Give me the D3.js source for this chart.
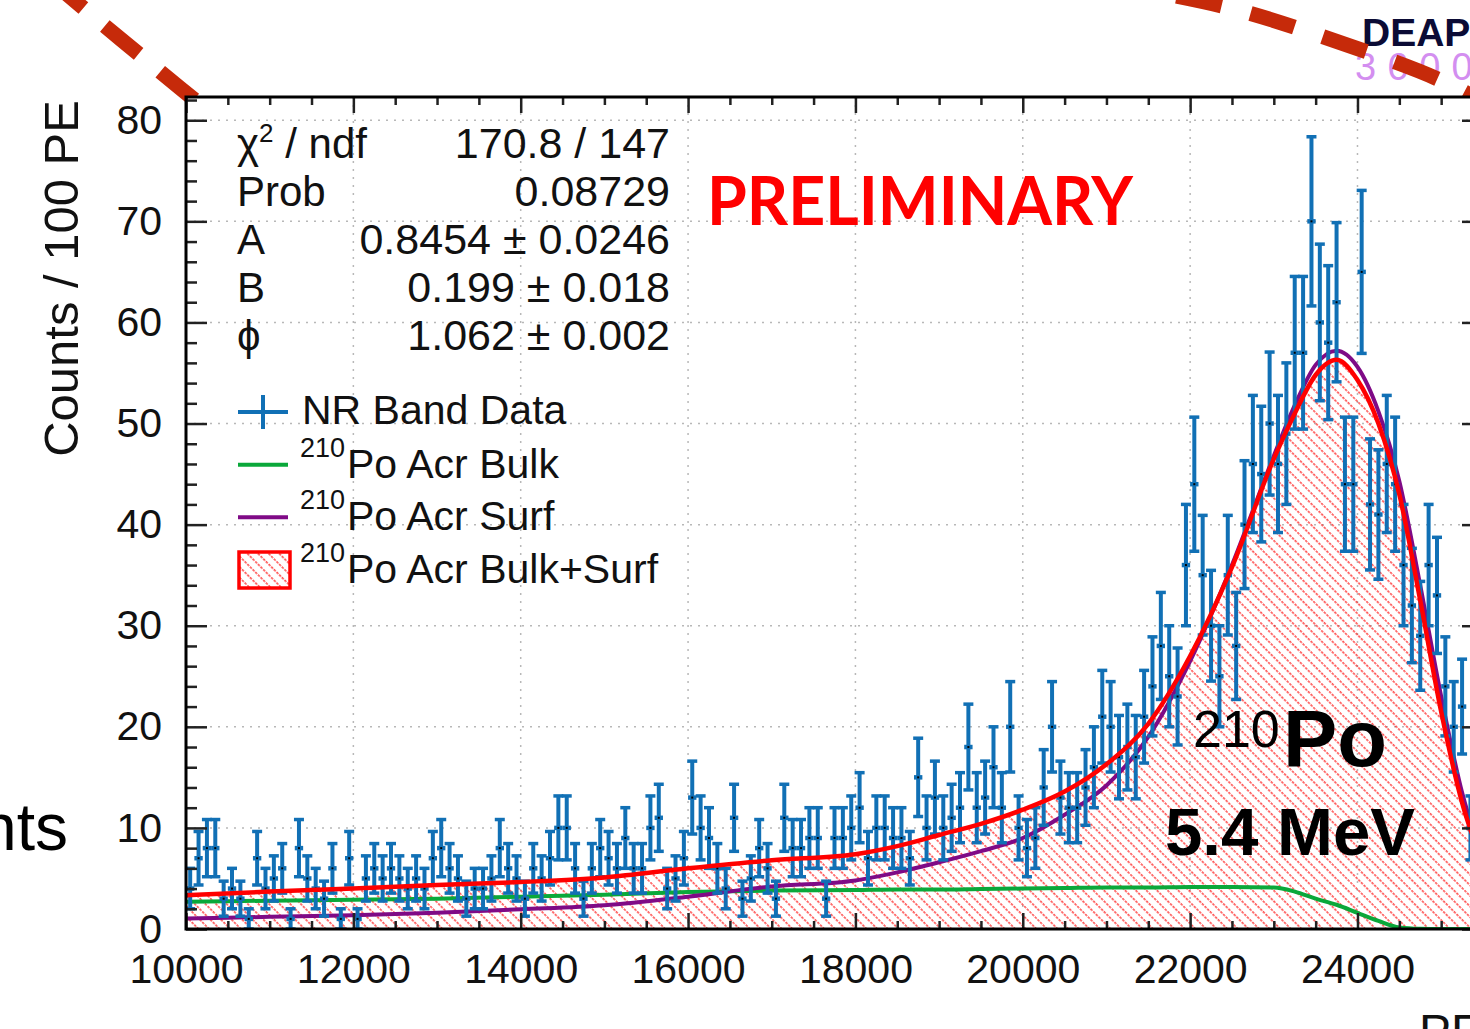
<!DOCTYPE html>
<html>
<head>
<meta charset="utf-8">
<script src="https://cdn.jsdelivr.net/npm/d3@7"></script>
<style>
  html, body { margin: 0; padding: 0; background: #fff; }
  svg { display: block; font-family: "Liberation Sans", Arial, Helvetica, sans-serif; }
</style>
</head>
<body>
<div id="plot1"></div>
<script>
// histogram: 100 PE bins starting at 10000
var binStart = 10000;
var binWidth = 100;
var counts = [
  4,7,8,8,3,4,3,1,7,4, 5,6,1,8,5,4,3,6,1,7,
  1,5,6,5,6,5,4,5,4,7, 8,6,5,3,4,4,5,8,6,5,
  3,6,5,7,10,10,6,3,6,8, 7,6,9,6,6,10,11,4,5,7,
  13,10,9,6,4,11,3,5,8,6, 3,11,8,8,9,9,3,9,9,10,
  12,7,10,10,9,9,7,15,10,13, 10,11,12,18,12,13,16,12,20,10,
  8,9,14,20,13,12,12,14,16,21, 20,17,18,17,21,24,28,25,23,36,
  44,35,30,25,35,28,40,46,45,50, 46,49,57,57,70,60,58,62,44,44,
  65,42,41,46,44,36,32,29,36,33, 24,20,22,10,8
];

// fit components at these PE values
var samplePE = [10000,11000,12000,13000,14000,15000,16000,17000,18000,18500,19000,19500,20000,20500,
  21000,21500,22000,22500,23000,23250,23500,23750,24000,24250,24500,24750,25000,25250,25500];
var totalFit = [3.35,3.7,4.0,4.35,4.65,5.1,6.0,6.8,7.4,8.2,9.3,10.4,11.8,13.6,
  16.3,20.3,27.0,35.8,46.5,51.0,54.8,56.3,54.3,50.0,43.0,32.5,21.5,12.5,6.5];
var surfFit = [1.05,1.2,1.35,1.6,1.95,2.35,3.2,4.2,4.8,5.6,6.6,7.7,9.0,11.3,
  14.2,19.0,26.5,36.0,46.8,51.8,55.8,57.2,55.6,51.2,44.3,34.0,23.0,13.5,7.0];
var bulkFit = [2.7,2.8,2.9,3.0,3.2,3.4,3.65,3.8,3.85,3.9,3.9,3.95,4.0,4.05,
  4.1,4.1,4.15,4.15,4.1,3.7,3.0,2.4,1.6,0.8,0.15,0.02,0,0,0];

var xMajor = [10000,12000,14000,16000,18000,20000,22000,24000];
var yMajor = [0,10,20,30,40,50,60,70,80];

var statNames = ["χ2", "Prob", "A", "B", "ϕ"];
var statValues = ["170.8 / 147", "0.08729", "0.8454 ± 0.0246", "0.199 ± 0.018", "1.062 ± 0.002"];
var legendNames = ["NR Band Data", "Po Acr Bulk", "Po Acr Surf", "Po Acr Bulk+Surf"];

var W = 1470, H = 1029;
var frame = {l: 186, r: 1483, t: 97, b: 929};

var blue = "#1170b5";
var red = "#ff0000";
var green = "#0aa83a";
var purple = "#7f0a86";

var svg = d3.select('#plot1').append('svg')
    .attr('width', W).attr('height', H);

var x = d3.scaleLinear().domain([10000, 25500]).range([frame.l, frame.r]);
var y = d3.scaleLinear().domain([0, 82.3]).range([frame.b, frame.t]);

var defs = svg.append('defs');
var hatch = defs.append('pattern')
    .attr('id', 'hatch')
    .attr('patternUnits', 'userSpaceOnUse')
    .attr('width', 7.5).attr('height', 7.5)
    .attr('patternTransform', 'rotate(-45)');
hatch.append('line')
    .attr('x1', 1).attr('y1', 0).attr('x2', 1).attr('y2', 7.5)
    .attr('stroke', red).attr('stroke-width', 1.1)
    .attr('stroke-dasharray', '2.5,1.25');

defs.append('clipPath').attr('id', 'clip')
    .append('rect')
    .attr('x', frame.l).attr('y', frame.t)
    .attr('width', frame.r - frame.l).attr('height', frame.b - frame.t);

// logo text in the corner
svg.append('text').attr('x', 1362).attr('y', 46)
    .style('font-size', '39px').style('font-weight', 'bold').style('fill', '#0b0b35')
    .text('DEAP');
svg.append('text').attr('x', 1355).attr('y', 80)
    .style('font-size', '38px').style('letter-spacing', '11px').style('fill', '#d38ef0')
    .text('3600');

// decorative dashed arcs
var arcLine = d3.line().curve(d3.curveNatural);
svg.append('path')
    .attr('d', arcLine([[55,-16],[100,22],[140,55],[180,88],[205,108]]))
    .attr('fill', 'none').attr('stroke', '#c62a0a').attr('stroke-width', 15)
    .attr('stroke-dasharray', '44,28').attr('stroke-dashoffset', 7);
svg.append('path')
    .attr('d', arcLine([[1150,-9],[1230,8],[1300,29],[1370,53],[1440,80],[1500,112]]))
    .attr('fill', 'none').attr('stroke', '#c62a0a').attr('stroke-width', 15)
    .attr('stroke-dasharray', '46,30').attr('stroke-dashoffset', 49);

// plot area
svg.append('rect')
    .attr('x', frame.l).attr('y', frame.t)
    .attr('width', frame.r - frame.l).attr('height', frame.b - frame.t)
    .attr('fill', '#fff');

var plot = svg.append('g').attr('clip-path', 'url(#clip)');

// dotted grid
plot.selectAll('.gx').data(xMajor.slice(1)).enter().append('line')
    .attr('x1', function(d){return x(d)}).attr('x2', function(d){return x(d)})
    .attr('y1', frame.t).attr('y2', frame.b)
    .attr('stroke', '#b8b8b8').attr('stroke-width', 1.5).attr('stroke-dasharray', '2,6');
plot.selectAll('.gy').data(yMajor.slice(1)).enter().append('line')
    .attr('y1', function(d){return y(d)}).attr('y2', function(d){return y(d)})
    .attr('x1', frame.l).attr('x2', frame.r)
    .attr('stroke', '#b8b8b8').attr('stroke-width', 1.5).attr('stroke-dasharray', '2,6');

var fitData = samplePE.map(function(pe, i){
    return {pe: pe, total: totalFit[i], surf: surfFit[i], bulk: bulkFit[i]};
});

// hatched bulk+surf area
plot.append('path')
    .datum(fitData)
    .attr('d', d3.area().curve(d3.curveMonotoneX)
        .x(function(d){return x(d.pe)})
        .y0(y(0))
        .y1(function(d){return y(d.total)}))
    .attr('fill', 'url(#hatch)');

plot.append('path')
    .datum(fitData)
    .attr('d', d3.line().curve(d3.curveMonotoneX)
        .x(function(d){return x(d.pe)}).y(function(d){return y(d.bulk)}))
    .attr('fill', 'none').attr('stroke', green).attr('stroke-width', 4);

plot.append('path')
    .datum(fitData)
    .attr('d', d3.line().curve(d3.curveMonotoneX)
        .x(function(d){return x(d.pe)}).y(function(d){return y(d.surf)}))
    .attr('fill', 'none').attr('stroke', purple).attr('stroke-width', 4);

// data points with sqrt(N) errors
var bins = counts.map(function(c, i){
    var lo = binStart + i * binWidth;
    return {lo: lo, hi: lo + binWidth, mid: lo + binWidth / 2, c: c, e: Math.sqrt(c)};
});

var pts = plot.append('g').selectAll('.pt').data(bins).enter().append('g');
pts.append('line')
    .attr('x1', function(d){return x(d.lo)}).attr('x2', function(d){return x(d.hi)})
    .attr('y1', function(d){return y(d.c)}).attr('y2', function(d){return y(d.c)})
    .attr('stroke', blue).attr('stroke-width', 4.5);
pts.append('line')
    .attr('x1', function(d){return x(d.mid)}).attr('x2', function(d){return x(d.mid)})
    .attr('y1', function(d){return y(d.c - d.e)}).attr('y2', function(d){return y(d.c + d.e)})
    .attr('stroke', blue).attr('stroke-width', 4);
pts.append('line')
    .attr('x1', function(d){return x(d.mid) - 5}).attr('x2', function(d){return x(d.mid) + 5})
    .attr('y1', function(d){return y(d.c + d.e)}).attr('y2', function(d){return y(d.c + d.e)})
    .attr('stroke', blue).attr('stroke-width', 3.5);
pts.append('line')
    .attr('x1', function(d){return x(d.mid) - 5}).attr('x2', function(d){return x(d.mid) + 5})
    .attr('y1', function(d){return y(d.c - d.e)}).attr('y2', function(d){return y(d.c - d.e)})
    .attr('stroke', blue).attr('stroke-width', 3.5);
pts.append('rect')
    .attr('x', function(d){return x(d.mid) - 1}).attr('y', function(d){return y(d.c) - 1})
    .attr('width', 2).attr('height', 2).attr('fill', '#000');

// total fit curve on top
plot.append('path')
    .datum(fitData)
    .attr('d', d3.line().curve(d3.curveMonotoneX)
        .x(function(d){return x(d.pe)}).y(function(d){return y(d.total)}))
    .attr('fill', 'none').attr('stroke', red).attr('stroke-width', 4.5);

// axes, ticks pointing inward (ROOT style)
function styleAxis(g){
    g.select('.domain').remove();
    g.selectAll('.tick line').attr('stroke', '#222').attr('stroke-width', 2.5);
    g.selectAll('.tick text').style('font-size', '41px').style('fill', '#111')
        .style('font-family', '"Liberation Sans", Arial, sans-serif');
}
var xMinor = d3.range(10000, 25501, 500).filter(function(v){return xMajor.indexOf(v) < 0});
var yMinor = d3.range(0, 82.3, 2).filter(function(v){return v % 10 !== 0});

svg.append('g').attr('transform', 'translate(0,' + frame.b + ')')
    .call(d3.axisBottom(x).tickValues(xMajor).tickFormat(d3.format('d')).tickSize(-16).tickPadding(25))
    .call(styleAxis);
svg.append('g').attr('transform', 'translate(0,' + frame.b + ')')
    .call(d3.axisBottom(x).tickValues(xMinor).tickFormat('').tickSize(-8))
    .call(styleAxis);
svg.append('g').attr('transform', 'translate(0,' + frame.t + ')')
    .call(d3.axisTop(x).tickValues(xMajor).tickFormat('').tickSize(-16))
    .call(styleAxis);
svg.append('g').attr('transform', 'translate(0,' + frame.t + ')')
    .call(d3.axisTop(x).tickValues(xMinor).tickFormat('').tickSize(-8))
    .call(styleAxis);
svg.append('g').attr('transform', 'translate(' + frame.l + ',0)')
    .call(d3.axisLeft(y).tickValues(yMajor).tickFormat(d3.format('d')).tickSize(-21).tickPadding(24))
    .call(styleAxis);
svg.append('g').attr('transform', 'translate(' + frame.l + ',0)')
    .call(d3.axisLeft(y).tickValues(yMinor).tickFormat('').tickSize(-11))
    .call(styleAxis);
svg.append('g').attr('transform', 'translate(' + frame.r + ',0)')
    .call(d3.axisRight(y).tickValues(yMajor).tickFormat('').tickSize(-21))
    .call(styleAxis);
svg.append('g').attr('transform', 'translate(' + frame.r + ',0)')
    .call(d3.axisRight(y).tickValues(yMinor).tickFormat('').tickSize(-11))
    .call(styleAxis);

// frame
svg.append('rect')
    .attr('x', frame.l).attr('y', frame.t)
    .attr('width', frame.r - frame.l).attr('height', frame.b - frame.t)
    .attr('fill', 'none').attr('stroke', '#000').attr('stroke-width', 3);

// axis titles
svg.append('text')
    .attr('transform', 'translate(78,100) rotate(-90)')
    .attr('text-anchor', 'end')
    .style('font-size', '49px').style('fill', '#111')
    .text('Counts / 100 PE');
svg.append('text').attr('x', frame.r).attr('y', 1048).attr('text-anchor', 'end')
    .style('font-size', '48px').style('fill', '#111')
    .text('PE');
svg.append('text').attr('x', 68).attr('y', 850).attr('text-anchor', 'end')
    .style('font-size', '66px').style('fill', '#000')
    .text('nts');

// fit statistics
var statY = d3.scaleLinear().domain([0, 4]).range([158, 350]);
statNames.forEach(function(n, i){
    var t = svg.append('text').attr('x', 237).attr('y', statY(i))
        .style('font-size', '42px').style('fill', '#111');
    if (n === "χ2") {
        t.append('tspan').text('χ');
        t.append('tspan').attr('dy', -16).style('font-size', '26px').text('2');
        t.append('tspan').attr('dy', 16).text(' / ndf');
    } else {
        t.text(n);
    }
    svg.append('text').attr('x', 670).attr('y', statY(i)).attr('text-anchor', 'end')
        .style('font-size', '43px').style('fill', '#111')
        .text(statValues[i]);
});

// legend
var legY = d3.scaleLinear().domain([0, 3]).range([412, 570]);
var leg = svg.append('g');
leg.append('line').attr('x1', 238).attr('x2', 288).attr('y1', legY(0)).attr('y2', legY(0))
    .attr('stroke', blue).attr('stroke-width', 4);
leg.append('line').attr('x1', 263).attr('x2', 263).attr('y1', legY(0) - 17).attr('y2', legY(0) + 17)
    .attr('stroke', blue).attr('stroke-width', 4);
leg.append('line').attr('x1', 238).attr('x2', 288).attr('y1', legY(1)).attr('y2', legY(1))
    .attr('stroke', green).attr('stroke-width', 4);
leg.append('line').attr('x1', 238).attr('x2', 288).attr('y1', legY(2)).attr('y2', legY(2))
    .attr('stroke', purple).attr('stroke-width', 4);
leg.append('rect').attr('x', 239).attr('y', legY(3) - 18).attr('width', 51).attr('height', 36)
    .attr('fill', 'url(#hatch)').attr('stroke', red).attr('stroke-width', 3.5);

legendNames.forEach(function(n, i){
    if (i === 0) {
        leg.append('text').attr('x', 302).attr('y', legY(0) + 12)
            .style('font-size', '41px').style('fill', '#111').text(n);
    } else {
        leg.append('text').attr('x', 300).attr('y', legY(i) - 8)
            .style('font-size', '27px').style('fill', '#111').text('210');
        leg.append('text').attr('x', 347).attr('y', legY(i) + 13)
            .style('font-size', '41px').style('fill', '#111').text(n);
    }
});

// annotations
svg.append('text').attr('x', 707).attr('y', 225)
    .attr('textLength', 426).attr('lengthAdjust', 'spacingAndGlyphs')
    .style('font-family', 'Lato, "Liberation Sans", sans-serif')
    .style('font-size', '66px').style('font-weight', 'bold').style('fill', '#f00')
    .text('PRELIMINARY');
svg.append('text').attr('x', 1193).attr('y', 747)
    .style('font-size', '52px').style('fill', '#000').text('210');
svg.append('text').attr('x', 1283).attr('y', 766)
    .attr('textLength', 104).attr('lengthAdjust', 'spacingAndGlyphs')
    .style('font-size', '80px').style('font-weight', 'bold').style('fill', '#000').text('Po');
svg.append('text').attr('x', 1165).attr('y', 855)
    .attr('textLength', 250).attr('lengthAdjust', 'spacingAndGlyphs')
    .style('font-size', '66px').style('font-weight', 'bold').style('fill', '#000').text('5.4 MeV');
</script>
</body>
</html>
